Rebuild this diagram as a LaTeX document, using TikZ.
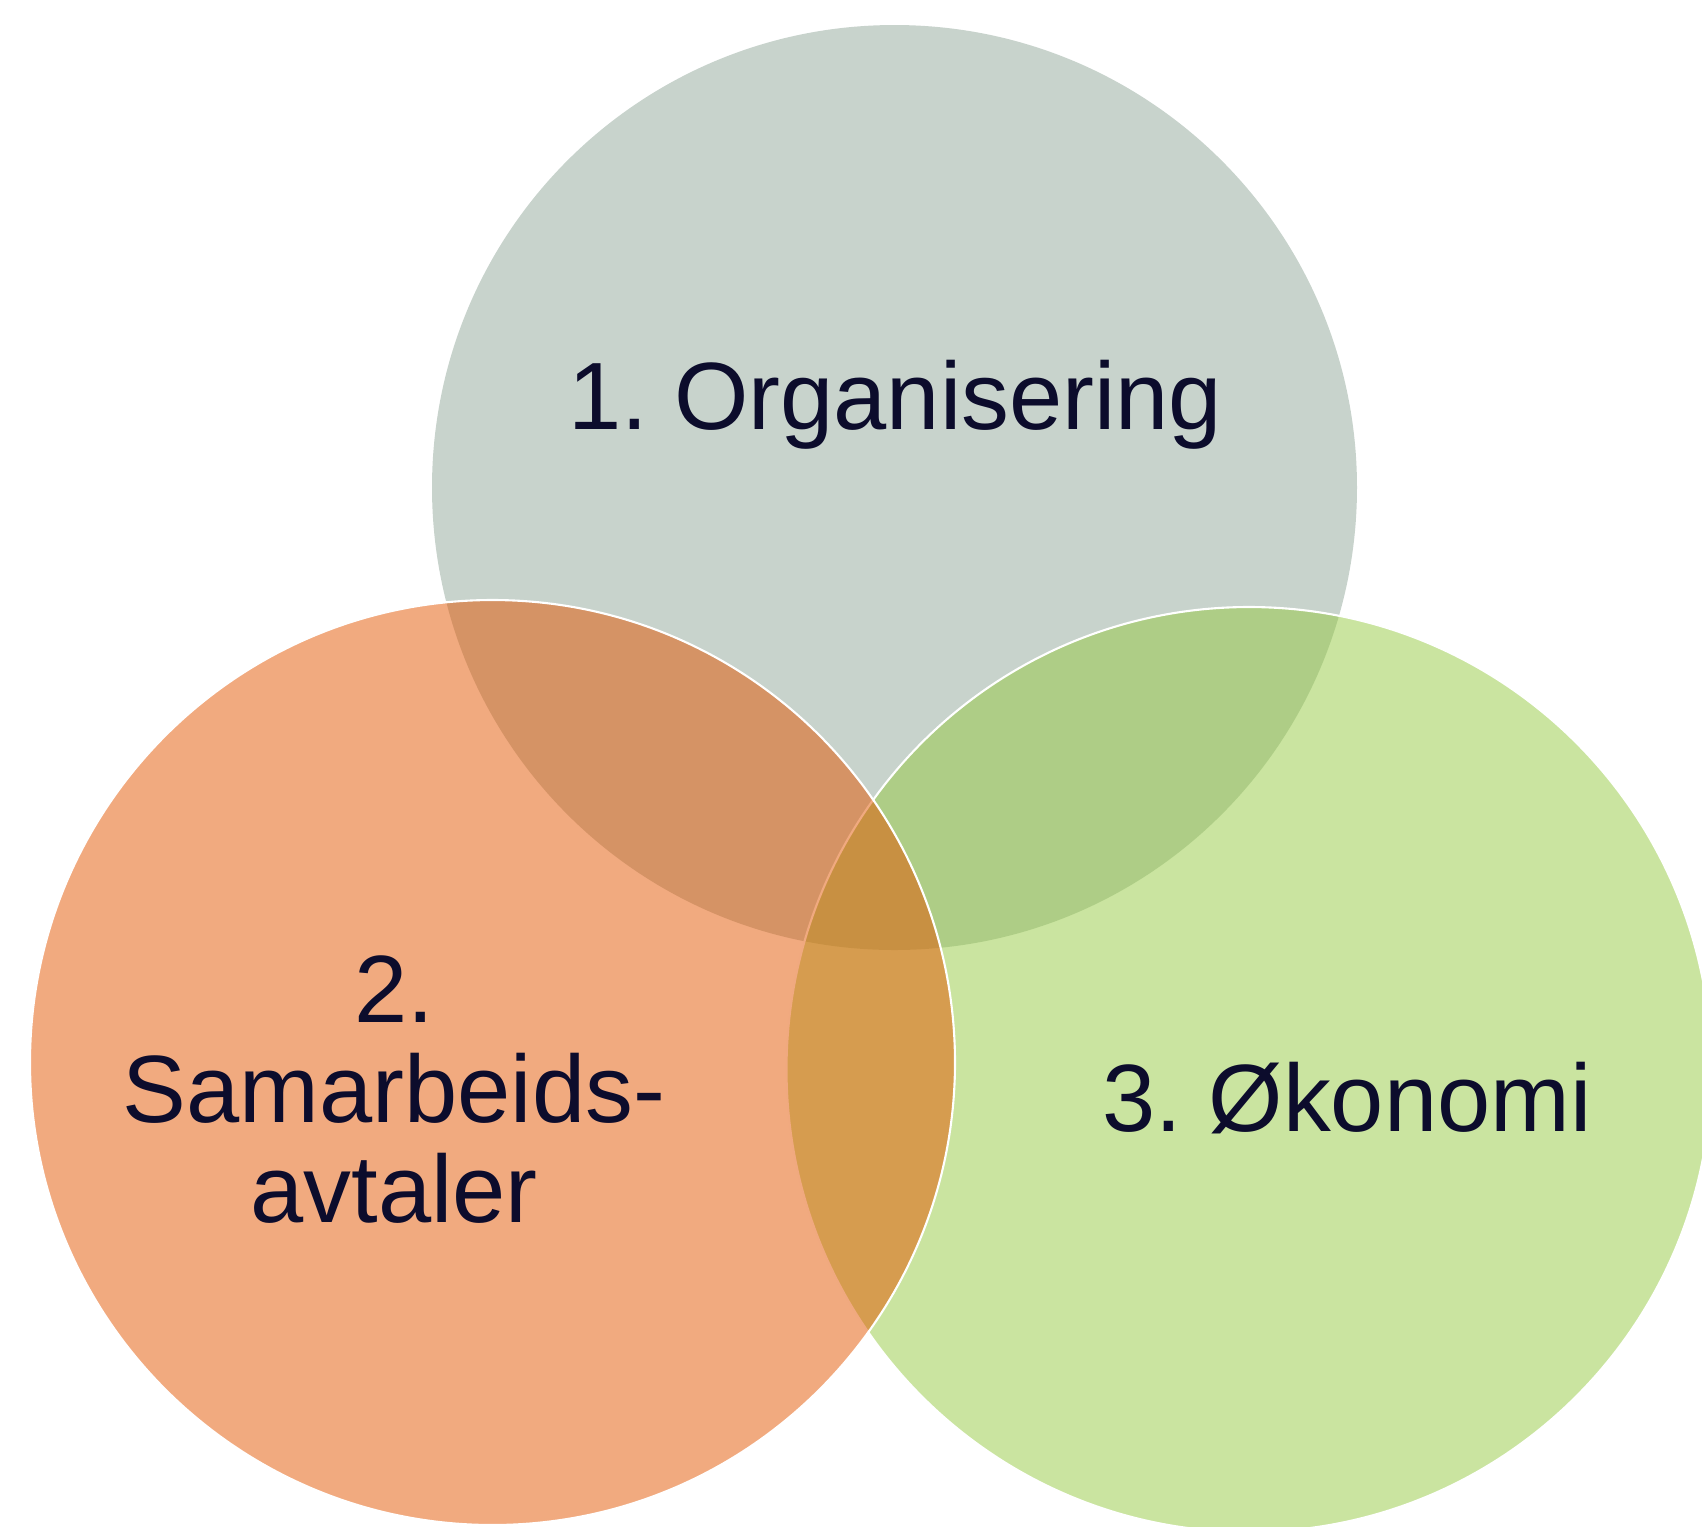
\documentclass[tikz,border=0pt]{standalone}
\usepackage{fontspec}
\setmainfont{Liberation Sans}
\frenchspacing
\definecolor{orgfill}{RGB}{145,167,153}
\definecolor{samfill}{RGB}{227,85,0}
\definecolor{okofill}{RGB}{149,201,65}
\definecolor{labeltext}{RGB}{12,12,44}
\begin{document}
\begin{tikzpicture}[x=0.01cm,y=-0.01cm,
  venn/.style={fill opacity=0.5},
  rim/.style={draw=white,line width=0.6pt},
  lbl/.style={text=labeltext,font=\fontsize{27.2}{28.4}\selectfont,align=center,inner sep=0pt}]
  \useasboundingbox (0,0) rectangle (1702,1526);
  \clip (0,0) rectangle (1702,1526);
  % the three circles, top first
  \fill[venn,orgfill] (894.5,487.5) circle (462.5);
  \fill[venn,okofill,rim] (1249,1069.5) circle (462.5);
  \fill[venn,samfill,rim] (492.5,1062.5) circle (462.5);
  % labels
  \node[lbl,anchor=base] (organisering) at (895,429) {1. Organisering};
  \node[lbl,anchor=base] (samarbeid) at (394,1222) {2.\\Samarbeids-\\avtaler};
  \node[lbl,anchor=base] (okonomi) at (1347,1131) {3. Økonomi};
\end{tikzpicture}
\end{document}
